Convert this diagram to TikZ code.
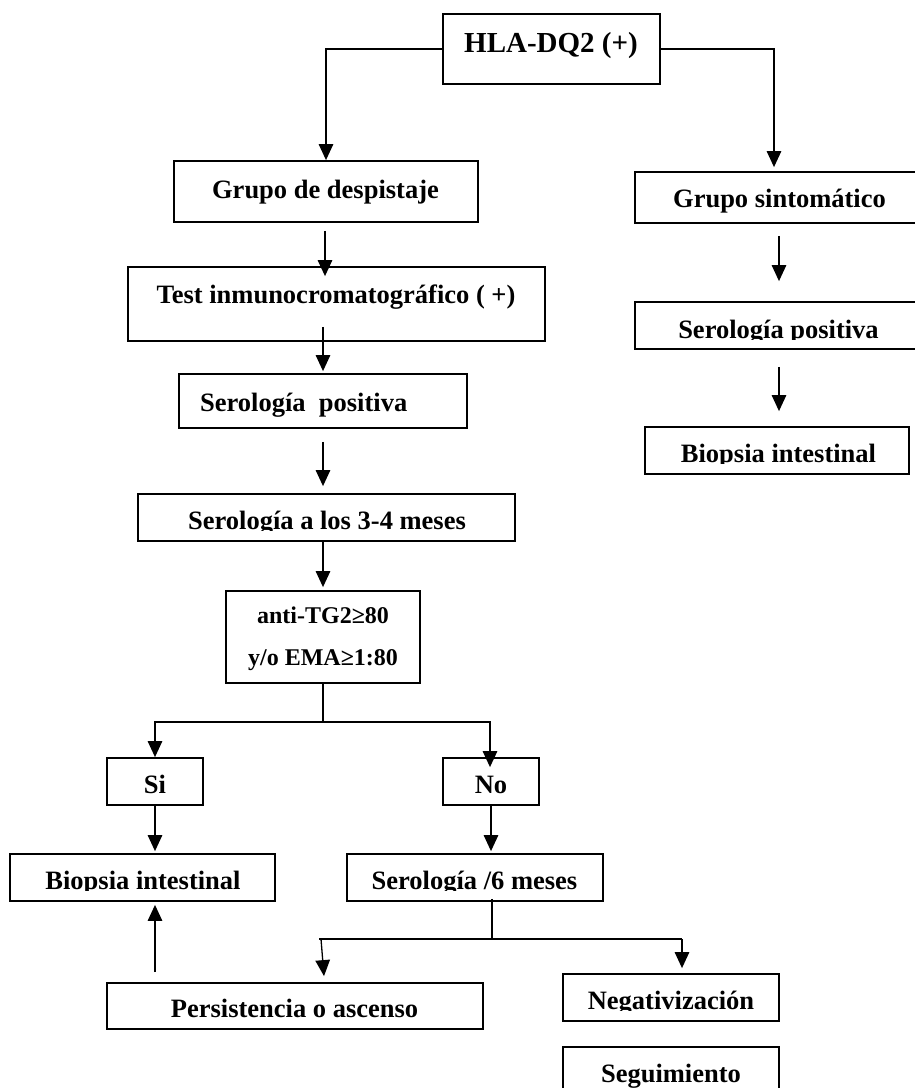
\documentclass[tikz,border=0pt]{standalone}
\usepackage{fontspec}
\setmainfont{Liberation Serif}
\usetikzlibrary{arrows.meta,calc}
\begin{document}
\begin{tikzpicture}[x=1pt,y=-1pt,
  box/.style={draw,line width=1.8pt,rectangle,inner sep=0pt},
  conn/.style={line width=1.3pt},
  arr/.style={conn,-{Triangle[length=16pt,width=14.5pt]}},
  txt/.style={inner sep=0pt,anchor=base,font=\bfseries\fontsize{26.5}{30}\selectfont},
  txtw/.style={txt,anchor=base west},
  txts/.style={inner sep=0pt,anchor=base,font=\bfseries\fontsize{24}{28}\selectfont},
  txtl/.style={inner sep=0pt,anchor=base,font=\bfseries\fontsize{29}{33}\selectfont}]
\clip (0,0) rectangle (915,1088);
\fill[white] (0,0) rectangle (915,1088);
% boxes
\node[box,minimum width=217pt,minimum height=70pt] (hla) at (551.5,49) {};
\node[box,minimum width=304pt,minimum height=61pt] (gd) at (326,191.5) {};
\node[box,minimum width=290pt,minimum height=51pt] (gs) at (780,197.5) {};
\node[box,minimum width=290pt,minimum height=47pt] (rsp) at (780,325.5) {};
\node[box,minimum width=264pt,minimum height=47pt] (rbi) at (777,450.5) {};
\node[box,minimum width=417pt,minimum height=74pt] (test) at (336.5,304) {};
\node[box,minimum width=288pt,minimum height=54pt] (sp) at (323,401) {};
\node[box,minimum width=377pt,minimum height=47pt] (s34) at (326.5,517.5) {};
\node[box,minimum width=194pt,minimum height=92pt] (anti) at (323,637) {};
\node[box,minimum width=96pt,minimum height=47pt] (si) at (155,781.5) {};
\node[box,minimum width=96pt,minimum height=47pt] (no) at (491,781.5) {};
\node[box,minimum width=265pt,minimum height=47pt] (bi) at (142.5,877.5) {};
\node[box,minimum width=256pt,minimum height=47pt] (s6) at (475,877.5) {};
\node[box,minimum width=376pt,minimum height=46pt] (pers) at (295,1006) {};
\node[box,minimum width=216pt,minimum height=47pt] (neg) at (671,997.5) {};
\node[box,minimum width=216pt,minimum height=47pt] (seg) at (671,1070.5) {};
% texts
\node[txtl] (thla) at (551,52) {HLA-DQ2 (+)};
\node[txt] (tgd) at (325.5,198) {Grupo de despistaje};
\node[txt] (tgs) at (779.5,207) {Grupo sintomático};
\begin{scope}
\clip (636,303) rectangle (915,339.5);
\node[txt] (trsp) at (778.5,338) {Serología positiva};
\end{scope}
\begin{scope}
\clip (646,428) rectangle (908,463.5);
\node[txt] (trbi) at (778.5,462) {Biopsia intestinal};
\end{scope}
\node[txt] (ttest) at (336,303) {Test inmunocromatográfico ( +)};
\node[txtw] (tsp) at (200,411) {Serología\ \ positiva};
\begin{scope}
\clip (139,495) rectangle (514,530.5);
\node[txt] (ts34) at (327,529) {Serología a los 3-4 meses};
\end{scope}
\node[txts] (tanti1) at (323,623) {anti-TG2≥80};
\node[txts] (tanti2) at (323,665) {y/o EMA≥1:80};
\node[txt] (tsi) at (155,793) {Si};
\node[txt] (tno) at (491,793) {No};
\begin{scope}
\clip (11,855) rectangle (274,890.5);
\node[txt] (tbi) at (143,889) {Biopsia intestinal};
\end{scope}
\begin{scope}
\clip (348,855) rectangle (602,890.5);
\node[txt] (ts6) at (474.5,889) {Serología /6 meses};
\end{scope}
\node[txt] (tpers) at (294.5,1017) {Persistencia o ascenso};
\begin{scope}
\clip (564,975) rectangle (778,1010.5);
\node[txt] (tneg) at (671,1009) {Negativización};
\end{scope}
\node[txt] (tseg) at (671,1082) {Seguimiento};
% connectors
\draw[arr] (hla.west) -| (gd.north);
\draw[arr] (hla.east) -| ($(gs.north)+(-6,-4)$);
\draw[arr] ($(gd.south)+(-1,8)$) -- ($(test.north)+(-11.5,10)$);
\draw[arr] ($(test.south)+(-13.5,-15)$) -- ($(sp.north)+(0,-2)$);
\draw[arr] ($(sp.south)+(0,13)$) -- ($(s34.north)+(-3.5,-7)$);
\draw[arr] ($(s34.south)+(-3.5,0)$) -- ($(anti.north)+(0,-3)$);
\coordinate (j1) at ($(anti.south)+(0,38)$);
\draw[conn] (anti.south) -- (j1);
\draw[arr] (j1) -| (si.north);
\draw[arr] (j1) -| ($(no.north)+(-1,10)$);
\draw[arr] (si.south) -- ($(bi.north)+(12.5,-2)$);
\draw[arr] (no.south) -- ($(s6.north)+(16,-2)$);
\coordinate (j2) at ($(s6.south)+(17,38)$);
\coordinate (hl) at (319,939);
\coordinate (hr) at (682,939);
\draw[conn] ($(s6.south)+(17,-3)$) -- (j2);
\draw[conn] (hl) -- (hr);
\draw[arr] ($(hl)+(2,0)$) -- ($(pers.north)+(29,-6)$);
\draw[arr] (hr) -- ($(neg.north)+(11,-5)$);
\draw[arr] ($(pers.north)+(-140,-10)$) -- ($(bi.south)+(12.5,3)$);
\draw[arr] ($(gs.south)+(-1,12)$) -- ($(rsp.north)+(-1,-20)$);
\draw[arr] ($(rsp.south)+(-1,17)$) -- ($(rbi.north)+(2,-15)$);
\end{tikzpicture}
\end{document}
